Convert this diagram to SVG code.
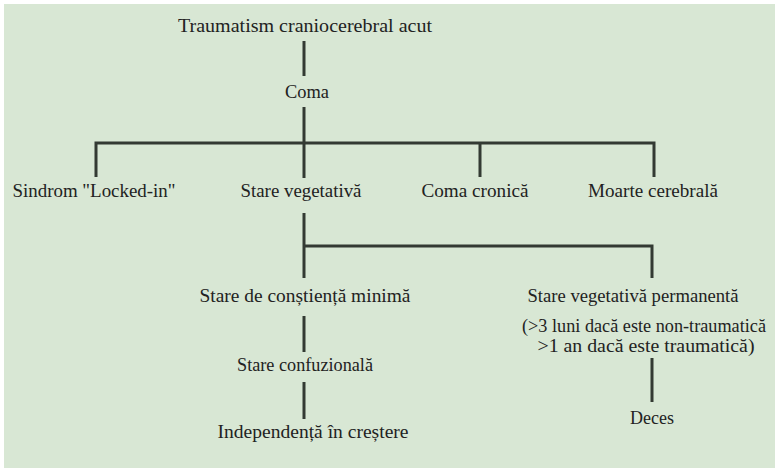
<svg xmlns="http://www.w3.org/2000/svg" width="775" height="468" viewBox="0 0 775 468">
  <style>
    .bg { fill: #d8e7d4; }
    .edge { stroke: #333a33; stroke-width: 3; fill: none; stroke-linecap: butt; }
  </style>
  <rect width="775" height="468" fill="#ffffff"/>
  <rect class="bg" x="4" y="4" width="771" height="464"/>

  <g id="connectors">
    <line class="edge" x1="304" y1="41" x2="304" y2="76"/>
    <line class="edge" x1="304" y1="107" x2="304" y2="178"/>
    <polyline class="edge" points="96,177 96,143 654,143 654,177"/>
    <line class="edge" x1="480" y1="143" x2="480" y2="177"/>
    <line class="edge" x1="304" y1="213" x2="304" y2="278"/>
    <polyline class="edge" points="304,246 652,246 652,278"/>
    <line class="edge" x1="304" y1="316" x2="304" y2="352"/>
    <line class="edge" x1="304" y1="382" x2="304" y2="419"/>
    <line class="edge" x1="652" y1="358" x2="652" y2="402"/>
  </g>

  <g font-family="'Liberation Serif', serif" font-size="18" fill="#222222" text-anchor="middle">
    <g id="trauma"><text x="305" y="31.5" textLength="254" lengthAdjust="spacingAndGlyphs">Traumatism craniocerebral acut</text></g>
    <g id="coma"><text x="307" y="98" textLength="44" lengthAdjust="spacingAndGlyphs">Coma</text></g>
    <g id="locked-in"><text x="94" y="197" textLength="163" lengthAdjust="spacingAndGlyphs">Sindrom "Locked-in"</text></g>
    <g id="stare-vegetativa"><text x="301" y="197" textLength="121" lengthAdjust="spacingAndGlyphs">Stare vegetativă</text></g>
    <g id="coma-cronica"><text x="475" y="197" textLength="107" lengthAdjust="spacingAndGlyphs">Coma cronică</text></g>
    <g id="moarte-cerebrala"><text x="653" y="197" textLength="130" lengthAdjust="spacingAndGlyphs">Moarte cerebrală</text></g>
    <g id="constienta-minima"><text x="305" y="301.5" textLength="211" lengthAdjust="spacingAndGlyphs">Stare de conștiență minimă</text></g>
    <g id="vegetativa-permanenta">
      <text x="633" y="301.5" textLength="211" lengthAdjust="spacingAndGlyphs">Stare vegetativă permanentă</text>
      <text x="644" y="332" textLength="244" lengthAdjust="spacingAndGlyphs">(&gt;3 luni dacă este non-traumatică</text>
      <text x="646" y="352" textLength="217" lengthAdjust="spacingAndGlyphs">&gt;1 an dacă este traumatică)</text>
    </g>
    <g id="confuzionala"><text x="305" y="371" textLength="136" lengthAdjust="spacingAndGlyphs">Stare confuzională</text></g>
    <g id="independenta"><text x="313" y="438" textLength="191" lengthAdjust="spacingAndGlyphs">Independență în creștere</text></g>
    <g id="deces"><text x="652" y="423.5" textLength="44" lengthAdjust="spacingAndGlyphs">Deces</text></g>
  </g>
</svg>
